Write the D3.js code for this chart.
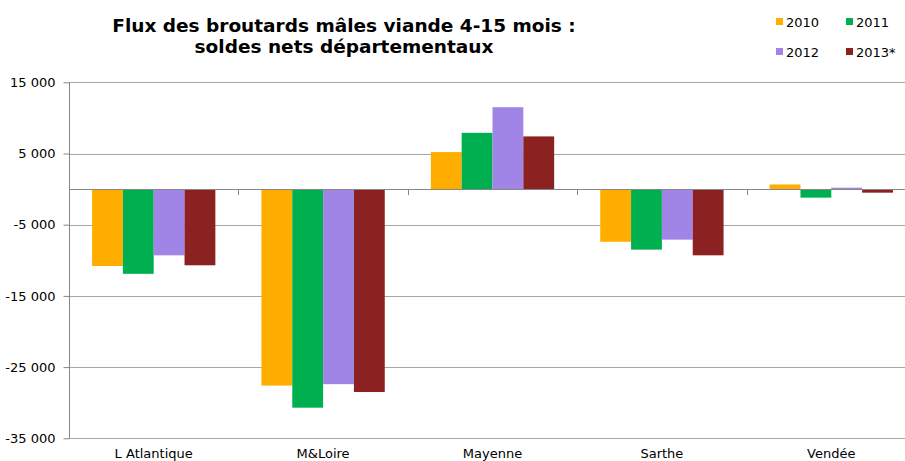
<!DOCTYPE html>
<html><head><meta charset="utf-8">
<script src="https://cdn.jsdelivr.net/npm/d3@7"></script>
<style>body{margin:0;background:#fff}svg{display:block}</style>
</head><body>
<svg id="c" width="905" height="461"></svg>
<script>
const categories = ["L Atlantique", "M&Loire", "Mayenne", "Sarthe", "Vendée"];
const seriesNames = ["2010", "2011", "2012", "2013*"];
const values2010 = [-10800, -27600, 5200, -7400, 650];
const values2011 = [-11900, -30700, 7900, -8500, -1200];
const values2012 = [-9300, -27400, 11500, -7100, 200];
const values2013 = [-10700, -28500, 7400, -9300, -500];
const seriesColors = ["#FFAE00", "#00AF50", "#A084E6", "#8C2121"];
const yTicks = [15000, 5000, -5000, -15000, -25000, -35000];
const titleLines = ["Flux des broutards mâles viande 4-15 mois :", "soldes nets départementaux"];

const series = [values2010, values2011, values2012, values2013];
const svg = d3.select("#c");
const font = "DejaVu Sans, Verdana, sans-serif";

const x0 = d3.scaleBand().domain(categories).range([69, 916]).paddingInner(0.272).paddingOuter(0.136);
const x1 = d3.scaleBand().domain(seriesNames).range([0, x0.bandwidth()]);
const y = d3.scaleLinear().domain([-35000, 15000]).range([438.3, 82.3]);
const fmt = v => d3.format(",")(v).replace(/,/g, " ").replace("−", "-");

// gridlines
svg.append("g").selectAll("line").data(yTicks).join("line")
  .attr("x1", 69).attr("x2", 916)
  .attr("y1", d => Math.round(y(d)) + 0.5).attr("y2", d => Math.round(y(d)) + 0.5)
  .attr("stroke", "#a6a6a6").attr("stroke-width", 1);

// y axis
const yAxis = d3.axisLeft(y).tickValues(yTicks).tickSize(6).tickFormat(fmt);
const gy = svg.append("g").attr("transform", "translate(69.5,0)").call(yAxis);
gy.select(".domain").attr("stroke", "#868686").attr("d", `M0,${Math.round(y(15000))+0.5}V${Math.round(y(-35000))+0.5}`);
gy.selectAll(".tick line").attr("stroke", "#868686");
gy.selectAll(".tick text").attr("font-family", font).attr("font-size", 13).attr("fill", "#000").attr("x", -14);

// bars
const g = svg.append("g");
categories.forEach((c, i) => {
  series.forEach((s, j) => {
    const v = s[i];
    g.append("rect")
      .attr("x", x0(c) + x1(seriesNames[j]))
      .attr("width", x1.bandwidth())
      .attr("y", y(Math.max(0, v)))
      .attr("height", Math.abs(y(v) - y(0)))
      .attr("fill", seriesColors[j]);
  });
});

// zero line
svg.append("line").attr("x1", 69).attr("x2", 916)
  .attr("y1", Math.round(y(0)) + 0.5).attr("y2", Math.round(y(0)) + 0.5)
  .attr("stroke", "#868686");

// category axis at zero with ticks between categories
const bounds = categories.map(c => x0(c) - x0.step() * x0.paddingInner() / 2);
bounds.push(x0(categories[4]) + x0.bandwidth() + x0.step() * x0.paddingInner() / 2);
svg.append("g").selectAll("line").data(bounds).join("line")
  .attr("x1", d => Math.round(d) + 0.5).attr("x2", d => Math.round(d) + 0.5)
  .attr("y1", Math.round(y(0))).attr("y2", Math.round(y(0)) + 6)
  .attr("stroke", "#868686");

// category labels
svg.append("g").selectAll("text").data(categories).join("text")
  .attr("x", d => x0(d) + x0.bandwidth() / 2).attr("y", 457.5)
  .attr("text-anchor", "middle").attr("font-family", font).attr("font-size", 13)
  .text(d => d);

// title
svg.append("g").selectAll("text").data(titleLines).join("text")
  .attr("x", 344).attr("y", (d, i) => 32 + i * 21)
  .attr("text-anchor", "middle").attr("font-family", font).attr("font-weight", "bold")
  .attr("font-size", 18.5).text(d => d);

// legend
const legPos = [[776, 18], [846, 18], [776, 48], [846, 48]];
seriesNames.forEach((n, j) => {
  const [lx, ly] = legPos[j];
  svg.append("rect").attr("x", lx).attr("y", ly).attr("width", 7).attr("height", 7).attr("fill", seriesColors[j]);
  svg.append("text").attr("x", lx + 10).attr("y", ly + 8.5).attr("font-family", font).attr("font-size", 13).text(n);
});
</script>
</body></html>
